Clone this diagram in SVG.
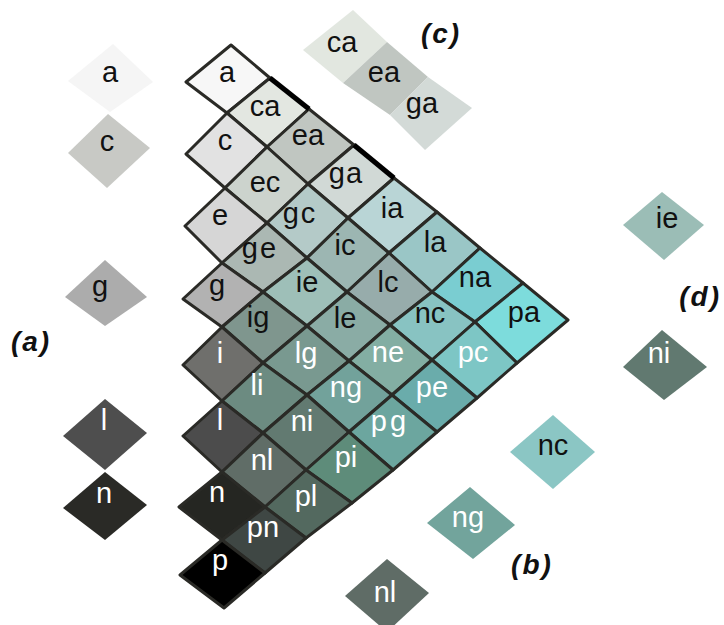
<svg xmlns="http://www.w3.org/2000/svg" width="724" height="625" viewBox="0 0 724 625">
  <style>
    .cell { stroke: #2a2a26; stroke-width: 3; stroke-linejoin: round; }
    .chip { stroke: none; }
    .t { font-family: "Liberation Sans", Arial, Helvetica, sans-serif; font-size: 29px; text-anchor: middle; }
    .k { fill: #111111; }
    .w { fill: #ffffff; }
    .lbl { font-family: "Liberation Sans", Arial, Helvetica, sans-serif; font-size: 28px; font-weight: bold; font-style: italic; fill: #111111; letter-spacing: 2px; }
    .heavy { stroke: #000000; stroke-width: 5; stroke-linecap: butt; fill: none; }
  </style>
  <rect width="724" height="625" fill="#ffffff"/>

  <!-- triangular lattice of pair cells -->
  <g id="grid">
    <g id="cell-a"><polygon class="cell" fill="#f7f7f7" points="231,45 270,78 227,113 186,82"/><text class="t k" x="227" y="82">a</text></g>
    <g id="cell-ca"><polygon class="cell" fill="#e3e7e1" points="270,78 309,109 267,147 227,113"/><text class="t k" x="265" y="116">ca</text></g>
    <g id="cell-c"><polygon class="cell" fill="#e2e2e2" points="227,113 267,147 225,188 186,154"/><text class="t k" x="225" y="150">c</text></g>
    <g id="cell-ea"><polygon class="cell" fill="#c0c6c1" points="309,109 354,145 308,184 267,147"/><text class="t k" x="308" y="145">ea</text></g>
    <g id="cell-ec"><polygon class="cell" fill="#ccd3cd" points="267,147 308,184 267,223 225,188"/><text class="t k" x="265" y="192">ec</text></g>
    <g id="cell-e"><polygon class="cell" fill="#d6d6d6" points="225,188 267,223 222,263 185,226"/><text class="t k" x="220" y="225">e</text></g>
    <g id="cell-ga"><polygon class="cell" fill="#d1d9d6" points="354,145 394,178 348,218 308,184"/><text class="t k" x="346" y="183" letter-spacing="1">ga</text></g>
    <g id="cell-gc"><polygon class="cell" fill="#b4cac8" points="308,184 348,218 307,258 267,223"/><text class="t k" x="300" y="223" letter-spacing="2">gc</text></g>
    <g id="cell-ge"><polygon class="cell" fill="#abb8b3" points="267,223 307,258 263,292 222,263"/><text class="t k" x="260" y="258" letter-spacing="2">ge</text></g>
    <g id="cell-g"><polygon class="cell" fill="#b2b2b2" points="222,263 263,292 222,327 183,299"/><text class="t k" x="217" y="295">g</text></g>
    <g id="cell-ia"><polygon class="cell" fill="#b9d5d6" points="394,178 437,212 389,253 348,218"/><text class="t k" x="392" y="218">ia</text></g>
    <g id="cell-ic"><polygon class="cell" fill="#9cb6b2" points="348,218 389,253 347,292 307,258"/><text class="t k" x="345" y="255">ic</text></g>
    <g id="cell-ie"><polygon class="cell" fill="#9ebfb8" points="307,258 347,292 307,326 263,292"/><text class="t k" x="307" y="292">ie</text></g>
    <g id="cell-ig"><polygon class="cell" fill="#7f968e" points="263,292 307,326 263,363 222,327"/><text class="t k" x="258" y="327">ig</text></g>
    <g id="cell-i"><polygon class="cell" fill="#6f6f6c" points="222,327 263,363 222,401 183,365"/><text class="t w" x="220" y="363">i</text></g>
    <g id="cell-la"><polygon class="cell" fill="#9ac6c6" points="437,212 480,248 432,292 389,253"/><text class="t k" x="435" y="252">la</text></g>
    <g id="cell-lc"><polygon class="cell" fill="#97acab" points="389,253 432,292 390,325 347,292"/><text class="t k" x="388" y="292">lc</text></g>
    <g id="cell-le"><polygon class="cell" fill="#8aaca5" points="347,292 390,325 349,361 307,326"/><text class="t k" x="345" y="328">le</text></g>
    <g id="cell-lg"><polygon class="cell" fill="#799990" points="307,326 349,361 307,395 263,363"/><text class="t w" x="306" y="363">lg</text></g>
    <g id="cell-li"><polygon class="cell" fill="#6c8b81" points="263,363 307,395 263,433 222,401"/><text class="t w" x="257" y="395">li</text></g>
    <g id="cell-l"><polygon class="cell" fill="#4c4c4c" points="222,401 263,433 222,472 183,436"/><text class="t w" x="220" y="430">l</text></g>
    <g id="cell-na"><polygon class="cell" fill="#7acdd1" points="480,248 523,283 475,322 432,292"/><text class="t k" x="475" y="287">na</text></g>
    <g id="cell-nc"><polygon class="cell" fill="#88c3c2" points="432,292 475,322 432,360 390,325"/><text class="t k" x="430" y="323">nc</text></g>
    <g id="cell-ne"><polygon class="cell" fill="#83aea3" points="390,325 432,360 392,395 349,361"/><text class="t w" x="388" y="362">ne</text></g>
    <g id="cell-ng"><polygon class="cell" fill="#72a29b" points="349,361 392,395 349,432 307,395"/><text class="t w" x="346" y="397">ng</text></g>
    <g id="cell-ni"><polygon class="cell" fill="#627a71" points="307,395 349,432 306,470 263,433"/><text class="t w" x="302" y="431">ni</text></g>
    <g id="cell-nl"><polygon class="cell" fill="#606d67" points="263,433 306,470 265,507 222,472"/><text class="t w" x="262" y="470">nl</text></g>
    <g id="cell-n"><polygon class="cell" fill="#252622" points="222,472 265,507 222,540 179,507"/><text class="t w" x="217" y="502">n</text></g>
    <g id="cell-pa"><polygon class="cell" fill="#7ddcdc" points="523,283 568,320 517,363 475,322"/><text class="t k" x="524" y="322">pa</text></g>
    <g id="cell-pc"><polygon class="cell" fill="#7dc6c5" points="475,322 517,363 477,398 432,360"/><text class="t w" x="473" y="362">pc</text></g>
    <g id="cell-pe"><polygon class="cell" fill="#6aacab" points="432,360 477,398 437,432 392,395"/><text class="t w" x="432" y="397">pe</text></g>
    <g id="cell-pg"><polygon class="cell" fill="#6ca69f" points="392,395 437,432 393,470 349,432"/><text class="t w" x="390" y="431" letter-spacing="3">pg</text></g>
    <g id="cell-pi"><polygon class="cell" fill="#5e8c7a" points="349,432 393,470 352,503 306,470"/><text class="t w" x="346" y="467">pi</text></g>
    <g id="cell-pl"><polygon class="cell" fill="#53695f" points="306,470 352,503 306,538 265,507"/><text class="t w" x="306" y="506">pl</text></g>
    <g id="cell-pn"><polygon class="cell" fill="#3f4744" points="265,507 306,538 265,573 222,540"/><text class="t w" x="263" y="537">pn</text></g>
    <g id="cell-p"><polygon class="cell" fill="#000000" points="222,540 265,573 224,608 180,575"/><text class="t w" x="220" y="570">p</text></g>
  </g>

  <!-- heavy edge strokes along the upper border -->
  <g id="edges">
    <line class="heavy" x1="270" y1="78" x2="309" y2="109"/>
    <line class="heavy" x1="354" y1="145" x2="394" y2="178"/>
  </g>

  <!-- (a) single letters -->
  <g id="set-a">
    <g id="a-a"><polygon class="chip" fill="#f5f5f5" points="113,44 153,82 110,112 68,81"/><text class="t k" x="110" y="82">a</text></g>
    <g id="a-c"><polygon class="chip" fill="#c8c9c5" points="108,114 150,148 107,188 68,153"/><text class="t k" x="107" y="151">c</text></g>
    <g id="a-g"><polygon class="chip" fill="#acacac" points="105,260 147,297 105,326 65,297"/><text class="t k" x="100" y="296">g</text></g>
    <g id="a-l"><polygon class="chip" fill="#4e4e4e" points="105,399 147,433 105,470 63,436"/><text class="t w" x="104" y="430">l</text></g>
    <g id="a-n"><polygon class="chip" fill="#2a2a26" points="105,472 147,505 105,540 63,508"/><text class="t w" x="104" y="503">n</text></g>
    <text class="lbl" x="31" y="351" text-anchor="middle">(a)</text>
  </g>

  <!-- (c) strip -->
  <g id="set-c">
    <g id="c-ca"><polygon class="chip" fill="#e2e7e0" points="353,10 387,42 343,83 303,50"/><text class="t k" x="342" y="52">ca</text></g>
    <g id="c-ea"><polygon class="chip" fill="#c0c6c1" points="387,42 428,77 390,115 343,83"/><text class="t k" x="384" y="82">ea</text></g>
    <g id="c-ga"><polygon class="chip" fill="#d3dad7" points="428,77 472,108 425,150 390,115"/><text class="t k" x="422" y="113">ga</text></g>
    <text class="lbl" x="441" y="43" text-anchor="middle">(c)</text>
  </g>

  <!-- (d) pair -->
  <g id="set-d">
    <g id="d-ie"><polygon class="chip" fill="#9bbdb6" points="662,192 704,225 664,260 623,225"/><text class="t k" x="667" y="228">ie</text></g>
    <g id="d-ni"><polygon class="chip" fill="#617970" points="662,330 707,367 664,400 623,367"/><text class="t w" x="659" y="363">ni</text></g>
    <text class="lbl" x="721" y="306" text-anchor="end" letter-spacing="1">(d)</text>
  </g>

  <!-- (b) trio -->
  <g id="set-b">
    <g id="b-nc"><polygon class="chip" fill="#8bc6c4" points="553,415 595,452 553,489 510,452"/><text class="t k" x="553" y="455">nc</text></g>
    <g id="b-ng"><polygon class="chip" fill="#72a49c" points="470,487 515,525 473,559 427,523"/><text class="t w" x="468" y="527">ng</text></g>
    <g id="b-nl"><polygon class="chip" fill="#5f6c66" points="387,559 429,593 387,632 345,596"/><text class="t w" x="385" y="602">nl</text></g>
    <text class="lbl" x="532" y="574" text-anchor="middle">(b)</text>
  </g>
</svg>
